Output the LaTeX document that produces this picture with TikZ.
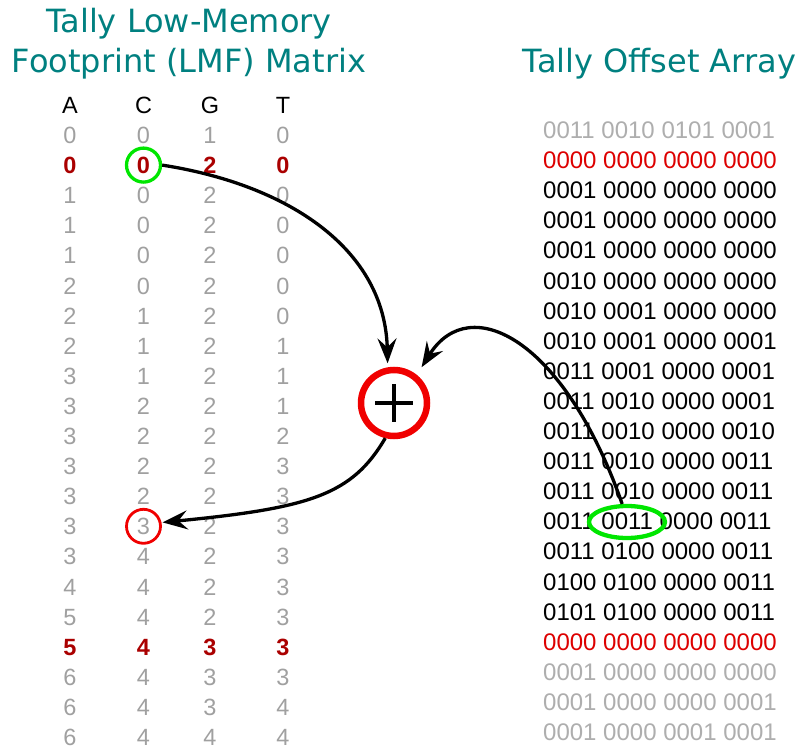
\documentclass[tikz,border=0pt]{standalone}
\usepackage{fontspec}
\setmainfont{Liberation Sans}
\newfontfamily\titlefont{DejaVu Sans}
\usetikzlibrary{arrows.meta,shapes.geometric}
\definecolor{titlecol}{HTML}{008080}
\definecolor{mgray}{HTML}{A0A0A0}
\definecolor{mred}{HTML}{AA0000}
\definecolor{ored}{HTML}{DD0000}
\definecolor{ogray}{HTML}{AEAEAE}
\definecolor{selgreen}{HTML}{00E600}
\definecolor{ringred}{HTML}{F00000}
\begin{document}
\begin{tikzpicture}[x=1pt,y=-1pt,
  title/.style={font=\titlefont\fontsize{32}{34}\selectfont, text=titlecol, anchor=base, inner sep=0pt},
  mcell/.style={font=\fontsize{23.5}{24}\selectfont, text height=17pt, text depth=0pt, inner sep=0pt, anchor=center},
  mg/.style={mcell, text=mgray},
  mr/.style={mcell, text=mred, font=\fontsize{23.5}{24}\selectfont\bfseries},
  hd/.style={mcell, text=black},
  orow/.style={font=\fontsize{24}{24}\selectfont, text height=17pt, text depth=0pt, inner sep=0pt, anchor=west},
  og/.style={orow, text=ogray},
  or/.style={orow, text=ored},
  ob/.style={orow, text=black},
  conn/.style={line width=3.3pt, -{Stealth[length=25pt,width=19pt,inset=9pt]}},
]
\useasboundingbox (0,0) rectangle (800,749);

% titles
\node[title] (t1) at (189,33) {Tally Low-Memory};
\node[title] (t2) at (189,73) {Footprint (LMF) Matrix};
\node[title] (t3) at (659.5,73) {Tally Offset Array};

% headers
\node[hd] (hA) at (70,105) {A};
\node[hd] (hC) at (143.5,105) {C};
\node[hd] (hG) at (210,105) {G};
\node[hd] (hT) at (283,105) {T};

% LMF matrix
\foreach \a/\c/\g/\t/\s [count=\i] in {
  0/0/1/0/mg, 0/0/2/0/mr, 1/0/2/0/mg, 1/0/2/0/mg, 1/0/2/0/mg,
  2/0/2/0/mg, 2/1/2/0/mg, 2/1/2/1/mg, 3/1/2/1/mg, 3/2/2/1/mg,
  3/2/2/2/mg, 3/2/2/3/mg, 3/2/2/3/mg, 3/3/2/3/mg, 3/4/2/3/mg,
  4/4/2/3/mg, 5/4/2/3/mg, 5/4/3/3/mr, 6/4/3/3/mg, 6/4/3/4/mg,
  6/4/4/4/mg}{
  \node[\s] (m\i-A) at (70,{135+30.1*(\i-1)}) {\a};
  \node[\s] (m\i-C) at (143.5,{135+30.1*(\i-1)}) {\c};
  \node[\s] (m\i-G) at (210,{135+30.1*(\i-1)}) {\g};
  \node[\s] (m\i-T) at (283,{135+30.1*(\i-1)}) {\t};
}

% offset array
\foreach \txt/\s [count=\i] in {
  0011 0010 0101 0001/og,
  0000 0000 0000 0000/or,
  0001 0000 0000 0000/ob,
  0001 0000 0000 0000/ob,
  0001 0000 0000 0000/ob,
  0010 0000 0000 0000/ob,
  0010 0001 0000 0000/ob,
  0010 0001 0000 0001/ob,
  0011 0001 0000 0001/ob,
  0011 0010 0000 0001/ob,
  0011 0010 0000 0010/ob,
  0011 0010 0000 0011/ob,
  0011 0010 0000 0011/ob,
  0011 0011 0000 0011/ob,
  0011 0100 0000 0011/ob,
  0100 0100 0000 0011/ob,
  0101 0100 0000 0011/ob,
  0000 0000 0000 0000/or,
  0001 0000 0000 0000/og,
  0001 0000 0000 0001/og,
  0001 0000 0001 0001/og}{
  \node[\s] (o\i) at (543,{130+30.1*(\i-1)}) {\txt};
}

% markers
\node[draw=selgreen, circle, line width=3.3pt, minimum size=34pt, inner sep=0pt] (gc) at (m2-C) {};
\node[draw=ringred, circle, line width=2.8pt, minimum size=34pt, inner sep=0pt] (rc) at (m14-C) {};
\node[draw=selgreen, ellipse, line width=4.3pt, minimum width=76pt, minimum height=32pt, inner sep=0pt] (sel) at (627,522) {};

% plus operator
\node[draw=ringred, circle, line width=6.5pt, minimum size=66pt, inner sep=0pt] (plus) at (394,403) {};
\draw[line width=4.5pt] (plus.center) ++(-19,0) -- ++(38,0);
\draw[line width=4.5pt] (plus.center) ++(0,-19) -- ++(0,38);

% connectors
\draw[conn, shorten >=4pt] (gc.east) .. controls (290,185) and (385,250) .. (plus.100);
\draw[conn, shorten >=9pt] (sel.105) .. controls (565,340) and (470,290) .. (plus.51);
\draw[conn, shorten >=1pt] (plus.256) .. controls (352,495) and (310,508) .. (rc.12);
\end{tikzpicture}
\end{document}
